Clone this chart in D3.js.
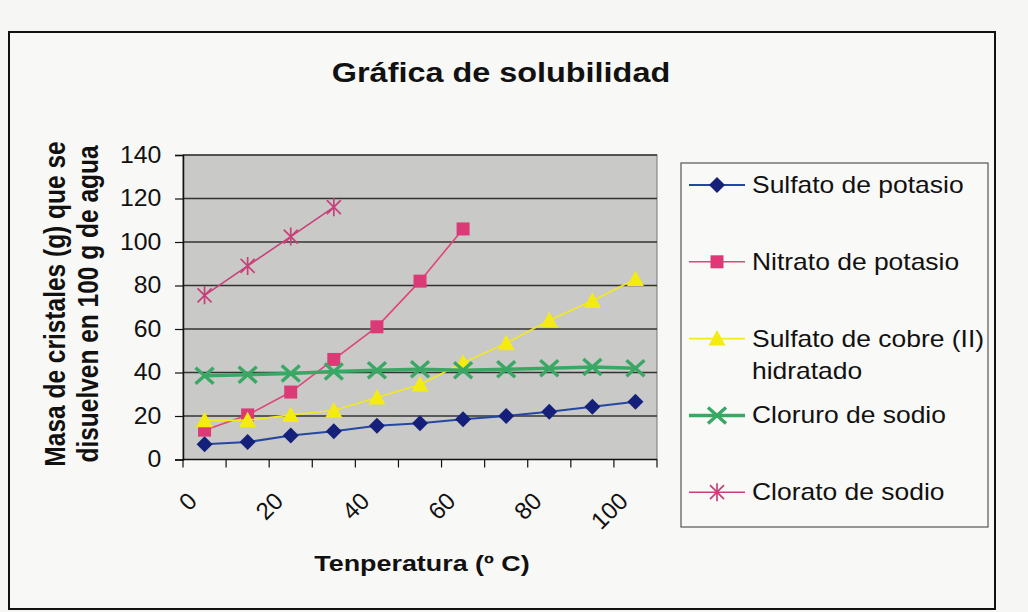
<!DOCTYPE html>
<html>
<head>
<meta charset="utf-8">
<script src="https://cdn.jsdelivr.net/npm/d3@7"></script>
<style>
    body { margin: 0; background: #f6f6f4; }
    text { font-family: "Liberation Sans", Arial, sans-serif; fill: #111; }
</style>
</head>
<body>
<div class="solubility-chart"></div>
<script>
// categories (temperature, ºC)
var temps = [0, 10, 20, 30, 40, 50, 60, 70, 80, 90, 100];
var xTickLabels = [0, 20, 40, 60, 80, 100];
var yTicks = [0, 20, 40, 60, 80, 100, 120, 140];

// grams dissolved in 100 g of water
var sulfatoPotasio = [7, 8, 11, 13, 15.5, 16.7, 18.5, 20, 22, 24.3, 26.5];
var nitratoPotasio = [13.5, 20.5, 31, 46, 61, 82, 106];
var sulfatoCobre = [18, 18, 20.5, 22.5, 28.5, 34.5, 44.5, 53.5, 64, 73, 83];
var cloruroSodio = [38.5, 39, 39.5, 40.5, 41, 41.5, 41, 41.5, 42, 42.5, 42];
var cloratoSodio = [75.5, 89, 102.5, 116];

var seriesNames = [
    ["Sulfato de potasio"],
    ["Nitrato de potasio"],
    ["Sulfato de cobre (II)", "hidratado"],
    ["Cloruro de sodio"],
    ["Clorato de sodio"]
];

var series = [
    {name: seriesNames[0], values: sulfatoPotasio, line: "#2447a0", fill: "#14207a", marker: "diamond", width: 2},
    {name: seriesNames[1], values: nitratoPotasio, line: "#e0447c", fill: "#dc3a76", marker: "square", width: 1.6},
    {name: seriesNames[2], values: sulfatoCobre, line: "#f2ea1c", fill: "#f4ec10", marker: "triangle", width: 1.6},
    {name: seriesNames[3], values: cloruroSodio, line: "#3aa864", fill: "#3aa864", marker: "cross", width: 3.5},
    {name: seriesNames[4], values: cloratoSodio, line: "#c8407a", fill: "#c8407a", marker: "star", width: 1.6}
];

var W = 1028, H = 612;
var plot = {left: 183, right: 657, top: 155, bottom: 459.5};

var svg = d3.select(".solubility-chart").append("svg")
    .attr("width", W)
    .attr("height", H);

// outer chart frame
svg.append("rect")
    .attr("x", 9).attr("y", 32)
    .attr("width", 986).attr("height", 577)
    .attr("fill", "#f8f8f6")
    .attr("stroke", "#111")
    .attr("stroke-width", 2);

var x = d3.scaleBand()
    .domain(temps)
    .range([plot.left, plot.right]);

var y = d3.scaleLinear()
    .domain([0, 140])
    .range([plot.bottom, plot.top]);

function cx(i) { return x(temps[i]) + x.bandwidth() / 2; }

// plot area
svg.append("rect")
    .attr("x", plot.left).attr("y", plot.top)
    .attr("width", plot.right - plot.left)
    .attr("height", plot.bottom - plot.top)
    .attr("fill", "#c9c9c7")
    .attr("stroke", "#777")
    .attr("stroke-width", 1);

// gridlines
svg.append("g")
    .selectAll("line")
    .data(yTicks.slice(1))
    .enter().append("line")
    .attr("x1", plot.left).attr("x2", plot.right)
    .attr("y1", function(d) { return y(d); })
    .attr("y2", function(d) { return y(d); })
    .attr("stroke", "#333")
    .attr("stroke-width", 1.3);

// Y axis
var yAxis = svg.append("g")
    .attr("transform", "translate(" + plot.left + ",0)")
    .call(d3.axisLeft(y).tickValues(yTicks).tickSize(8).tickPadding(12));
yAxis.select(".domain").attr("stroke", "#111").attr("stroke-width", 1.5);
yAxis.selectAll(".tick line").attr("stroke", "#111").attr("stroke-width", 1.2);
yAxis.selectAll(".tick text")
    .attr("font-size", 23)
    .attr("font-family", "Liberation Sans, Arial, sans-serif")
    .attr("fill", "#111")
    .attr("transform", "scale(1.08,1)");

// X axis (category axis: ticks between categories)
var xg = svg.append("g");
xg.append("line")
    .attr("x1", plot.left).attr("x2", plot.right)
    .attr("y1", plot.bottom).attr("y2", plot.bottom)
    .attr("stroke", "#111").attr("stroke-width", 1.5);
xg.selectAll(".xtick")
    .data(temps.concat(["end"]))
    .enter().append("line")
    .attr("class", "xtick")
    .attr("x1", function(d) { return d === "end" ? plot.right : x(d); })
    .attr("x2", function(d) { return d === "end" ? plot.right : x(d); })
    .attr("y1", plot.bottom).attr("y2", plot.bottom + 8)
    .attr("stroke", "#111").attr("stroke-width", 1.2);
xg.selectAll(".xlabel")
    .data(xTickLabels)
    .enter().append("text")
    .attr("class", "xlabel")
    .attr("transform", function(d) {
        return "translate(" + (x(d) + x.bandwidth() / 2 - 12) + "," + (plot.bottom + 37) + ") rotate(-45)";
    })
    .attr("text-anchor", "end")
    .attr("dy", "0.35em")
    .attr("font-size", 24)
    .text(function(d) { return d; });

// lines and markers
var line = d3.line()
    .x(function(d, i) { return cx(i); })
    .y(function(d) { return y(d); });

function drawMarker(g, type, color) {
    if (type === "diamond") {
        g.append("path").attr("d", "M0,-8L8,0L0,8L-8,0Z").attr("fill", color);
    } else if (type === "square") {
        g.append("rect").attr("x", -6.5).attr("y", -6.5).attr("width", 13).attr("height", 13).attr("fill", color);
    } else if (type === "triangle") {
        g.append("path").attr("d", "M0,-8.5L8.5,7L-8.5,7Z").attr("fill", color);
    } else if (type === "cross") {
        g.append("path").attr("d", "M-9,-8L9,8M-9,8L9,-8")
            .attr("stroke", color).attr("stroke-width", 3.4).attr("fill", "none");
    } else if (type === "star") {
        g.append("path").attr("d", "M-7,-7L7,7M-7,7L7,-7M0,-9L0,9")
            .attr("stroke", color).attr("stroke-width", 1.7).attr("fill", "none");
    }
}

var sg = svg.append("g")
    .selectAll("g")
    .data(series)
    .enter().append("g");

sg.append("path")
    .attr("d", function(d) { return line(d.values); })
    .attr("fill", "none")
    .attr("stroke", function(d) { return d.line; })
    .attr("stroke-width", function(d) { return d.width; });

sg.each(function(s) {
    var g = d3.select(this);
    s.values.forEach(function(v, i) {
        var m = g.append("g").attr("transform", "translate(" + cx(i) + "," + y(v) + ")");
        drawMarker(m, s.marker, s.fill);
    });
});

// title
svg.append("text")
    .attr("transform", "translate(501,82) scale(1.2,1)")
    .attr("text-anchor", "middle")
    .attr("font-size", 27)
    .attr("font-weight", "bold")
    .text("Gráfica de solubilidad");

// axis titles
svg.append("text")
    .attr("transform", "translate(422,571) scale(1.25,1)")
    .attr("text-anchor", "middle")
    .attr("font-size", 21.5)
    .attr("font-weight", "bold")
    .text("Tenperatura (º C)");

var yTitle = ["Masa de cristales (g) que se", "disuelven en 100 g de agua"];
svg.selectAll(".ytitle")
    .data(yTitle)
    .enter().append("text")
    .attr("class", "ytitle")
    .attr("transform", function(d, i) {
        return "translate(" + (65 + i * 33) + ",304) rotate(-90) scale(1,1.2)";
    })
    .attr("text-anchor", "middle")
    .attr("font-size", 24.5)
    .attr("font-weight", "bold")
    .text(function(d) { return d; });

// legend
var legend = svg.append("g");
legend.append("rect")
    .attr("x", 681).attr("y", 163)
    .attr("width", 307).attr("height", 364)
    .attr("fill", "#f9f9f8")
    .attr("stroke", "#555")
    .attr("stroke-width", 1.2);

var rowStep = 76.8;
var item = legend.selectAll(".item")
    .data(series)
    .enter().append("g")
    .attr("class", "item")
    .attr("transform", function(d, i) { return "translate(0," + (185 + i * rowStep) + ")"; });

item.append("line")
    .attr("x1", 689).attr("x2", 745)
    .attr("stroke", function(d) { return d.line; })
    .attr("stroke-width", function(d) { return d.width; });

item.each(function(s) {
    var g = d3.select(this);
    drawMarker(g.append("g").attr("transform", "translate(717,0)"), s.marker, s.fill);
    s.name.forEach(function(t, j) {
        g.append("text")
            .attr("transform", "translate(752," + (8 + j * 32) + ") scale(1.15,1)")
            .attr("font-size", 23)
            .text(t);
    });
});
</script>
</body>
</html>
